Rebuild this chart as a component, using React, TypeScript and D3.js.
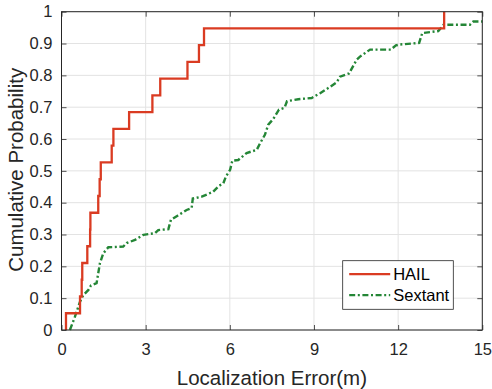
import React, { useEffect, useRef } from "react";
import * as d3 from "d3";

const WIDTH = 492;
const HEIGHT = 389;

// Axis ticks
const X_TICKS = [0, 3, 6, 9, 12, 15];
const Y_TICKS = [0, 0.1, 0.2, 0.3, 0.4, 0.5, 0.6, 0.7, 0.8, 0.9, 1];
const Y_TICK_LABELS = ["0", "0.1", "0.2", "0.3", "0.4", "0.5", "0.6", "0.7", "0.8", "0.9", "1"];

// HAIL localization errors (m), one entry per trial (empirical CDF)
const HAIL_ERRORS = [
  0.16, 0.66, 0.72, 0.74, 0.92, 1.02, 1.03, 1.31, 1.36, 1.4,
  1.79, 1.85, 2.41, 3.24, 3.52, 4.49, 4.9, 5.08, 13.64,
];

// Sextant CDF curve: error (m) and cumulative probability
const SEXTANT_ERROR = [
  0.3, 0.48, 0.66, 0.78, 0.96, 1.05, 1.25, 1.37, 1.49, 1.67,
  2.2, 2.32, 2.62, 2.92, 3.33, 3.45, 3.81, 3.9, 4.15, 4.46,
  4.64, 4.68, 5.0, 5.4, 5.6, 5.77, 5.86, 6.01, 6.09, 6.3,
  6.6, 6.96, 7.08, 7.25, 7.37, 7.55, 7.75, 7.95, 8.04, 8.44,
  8.92, 9.22, 9.54, 9.81, 9.93, 10.25, 10.4, 10.52, 10.64, 11.0,
  11.74, 11.92, 12.07, 12.75, 12.86, 13.43, 13.62, 14.56, 14.68, 15.0,
];
const SEXTANT_CDF = [
  0, 0.042, 0.089, 0.11, 0.126, 0.14, 0.147, 0.21, 0.241, 0.26,
  0.262, 0.273, 0.283, 0.299, 0.304, 0.314, 0.317, 0.346, 0.36, 0.377,
  0.383, 0.413, 0.419, 0.434, 0.452, 0.461, 0.482, 0.503, 0.532, 0.534,
  0.556, 0.566, 0.587, 0.613, 0.645, 0.663, 0.692, 0.698, 0.719, 0.725,
  0.729, 0.744, 0.762, 0.778, 0.796, 0.806, 0.83, 0.849, 0.859, 0.881,
  0.881, 0.894, 0.897, 0.902, 0.933, 0.939, 0.959, 0.959, 0.969, 0.969,
];

const SERIES_NAMES = ["HAIL", "Sextant"];
const SERIES_COLORS = ["#DA3B22", "#248636"];
const SEXTANT_DASH = "6,2.6,2,2.6";

const FONT = "'Liberation Sans', Arial, Helvetica, sans-serif";
const AXIS_COLOR = "#262626";
const GRID_COLOR = "#e3e3e3";

export default function App() {
  const ref = useRef<SVGSVGElement>(null);

  useEffect(() => {
    const svg = d3.select(ref.current);
    svg.selectAll("*").remove();

    const left = 61.5;
    const right = 482.3;
    const top = 11.7;
    const bottom = 330;

    const x = d3.scaleLinear().domain([0, 15]).range([left, right]);
    const y = d3.scaleLinear().domain([0, 1]).range([bottom, top]);

    svg.append("rect").attr("width", WIDTH).attr("height", HEIGHT).attr("fill", "#fff");

    // grid
    const grid = svg.append("g").attr("stroke", GRID_COLOR).attr("stroke-width", 1);
    X_TICKS.forEach((t) => {
      grid.append("line").attr("x1", x(t)).attr("x2", x(t)).attr("y1", top).attr("y2", bottom);
    });
    Y_TICKS.forEach((t) => {
      grid.append("line").attr("x1", left).attr("x2", right).attr("y1", y(t)).attr("y2", y(t));
    });

    // HAIL empirical CDF as a step line
    const n = HAIL_ERRORS.length;
    const hailPts: [number, number][] = [[HAIL_ERRORS[0], 0]];
    HAIL_ERRORS.forEach((e, i) => hailPts.push([e, (i + 1) / n]));
    const stepLine = d3
      .line<[number, number]>()
      .x((d) => x(d[0]))
      .y((d) => y(d[1]))
      .curve(d3.curveStepAfter);

    // Sextant curve
    const sextPts: [number, number][] = SEXTANT_ERROR.map((e, i) => [e, SEXTANT_CDF[i]]);
    const plainLine = d3
      .line<[number, number]>()
      .x((d) => x(d[0]))
      .y((d) => y(d[1]));

    svg
      .append("path")
      .attr("d", plainLine(sextPts))
      .attr("fill", "none")
      .attr("stroke", SERIES_COLORS[1])
      .attr("stroke-width", 2.4)
      .attr("stroke-dasharray", SEXTANT_DASH);

    svg
      .append("path")
      .attr("d", stepLine(hailPts))
      .attr("fill", "none")
      .attr("stroke", SERIES_COLORS[0])
      .attr("stroke-width", 2.3);

    // axes (ticks point inward, box on all sides)
    const styleAxis = (g: d3.Selection<SVGGElement, unknown, null, undefined>) => {
      g.select(".domain").remove();
      g.selectAll(".tick line").attr("stroke", AXIS_COLOR).attr("stroke-width", 0.8);
      g.selectAll(".tick text")
        .attr("fill", AXIS_COLOR)
        .style("font-family", FONT)
        .style("font-size", "16.5px");
    };

    const bottomAxis = svg
      .append("g")
      .attr("transform", `translate(0,${bottom})`)
      .call(d3.axisBottom(x).tickValues(X_TICKS).tickSizeInner(-5).tickSizeOuter(0).tickPadding(13).tickFormat(d3.format("d")));
    styleAxis(bottomAxis);

    const topAxis = svg
      .append("g")
      .attr("transform", `translate(0,${top})`)
      .call(d3.axisTop(x).tickValues(X_TICKS).tickSizeInner(-5).tickSizeOuter(0).tickFormat(() => ""));
    styleAxis(topAxis);

    const leftAxis = svg
      .append("g")
      .attr("transform", `translate(${left},0)`)
      .call(
        d3
          .axisLeft(y)
          .tickValues(Y_TICKS)
          .tickSizeInner(-5)
          .tickSizeOuter(0)
          .tickPadding(9)
          .tickFormat((d, i) => Y_TICK_LABELS[i])
      );
    styleAxis(leftAxis);

    const rightAxis = svg
      .append("g")
      .attr("transform", `translate(${right},0)`)
      .call(d3.axisRight(y).tickValues(Y_TICKS).tickSizeInner(-5).tickSizeOuter(0).tickFormat(() => ""));
    styleAxis(rightAxis);

    svg
      .append("rect")
      .attr("x", left)
      .attr("y", top)
      .attr("width", right - left)
      .attr("height", bottom - top)
      .attr("fill", "none")
      .attr("stroke", AXIS_COLOR)
      .attr("stroke-width", 1);

    // axis titles
    svg
      .append("text")
      .attr("x", (left + right) / 2)
      .attr("y", 385)
      .attr("text-anchor", "middle")
      .attr("fill", AXIS_COLOR)
      .style("font-family", FONT)
      .style("font-size", "20.5px")
      .text("Localization Error(m)");

    svg
      .append("text")
      .attr("transform", `translate(23,${(top + bottom) / 2 - 1}) rotate(-90)`)
      .attr("text-anchor", "middle")
      .attr("fill", AXIS_COLOR)
      .style("font-family", FONT)
      .style("font-size", "20.5px")
      .text("Cumulative Probability");

    // legend
    const lg = svg.append("g").attr("transform", "translate(342.7,260.7)");
    lg.append("rect")
      .attr("width", 110.6)
      .attr("height", 48.6)
      .attr("fill", "#fff")
      .attr("stroke", AXIS_COLOR)
      .attr("stroke-width", 0.8);
    SERIES_NAMES.forEach((name, i) => {
      const yy = 13.5 + i * 21;
      lg.append("line")
        .attr("x1", 6.5)
        .attr("x2", 47.5)
        .attr("y1", yy)
        .attr("y2", yy)
        .attr("stroke", SERIES_COLORS[i])
        .attr("stroke-width", 2.3)
        .attr("stroke-dasharray", i === 1 ? SEXTANT_DASH : null);
      lg.append("text")
        .attr("x", 50.5)
        .attr("y", yy)
        .attr("dy", "0.35em")
        .attr("fill", "#000")
        .style("font-family", FONT)
        .style("font-size", "16.5px")
        .text(name);
    });
  }, []);

  return (
    <svg
      ref={ref}
      width={WIDTH}
      height={HEIGHT}
      style={{ position: "absolute", left: 0, top: 0, display: "block" }}
    />
  );
}
